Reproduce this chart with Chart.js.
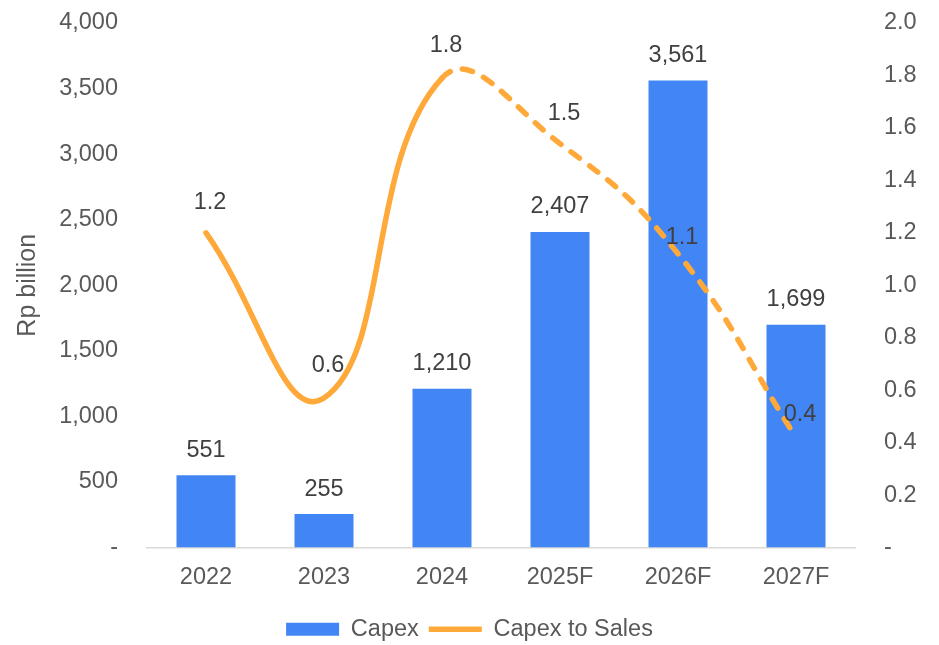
<!DOCTYPE html>
<html><head><meta charset="utf-8">
<script src="https://cdn.jsdelivr.net/npm/chart.js@4.4.1/dist/chart.umd.min.js"></script>
<style>html,body{margin:0;padding:0;background:#fff;overflow:hidden}</style>
</head><body>
<canvas id="c" width="939" height="645"></canvas>
<script>
const categories = ['2022', '2023', '2024', '2025F', '2026F', '2027F'];
const capex = [551, 255, 1210, 2407, 3561, 1699];
const capexToSales = [1.2, 0.57, 1.79, 1.54, 1.12, 0.42];
const firstForecastIndex = 2; // line is dashed from 2024 onward

const FONT = '"Liberation Sans", Arial, sans-serif';
const TICK_COLOR = '#595959';
const LABEL_COLOR = '#404040';
const BAR_COLOR = '#4285F4';
const LINE_COLOR = '#FFA93A';

const valueLabels = {
  id: 'valueLabels',
  afterDatasetsDraw(chart) {
    const ctx = chart.ctx;
    ctx.save();
    ctx.font = '23.5px ' + FONT;
    ctx.fillStyle = LABEL_COLOR;
    ctx.textAlign = 'center';
    ctx.textBaseline = 'middle';
    chart.getDatasetMeta(0).data.forEach((el, i) => {
      ctx.fillText(capex[i].toLocaleString('en-US'), el.x, el.y - 25);
    });
    const dy = [-30, -33, -33, -30, -16, -23];
    chart.getDatasetMeta(1).data.forEach((el, i) => {
      ctx.fillText(capexToSales[i].toFixed(1), el.x + 4, el.y + dy[i]);
    });
    ctx.restore();
  }
};

const fixVertical = w => s => { s.width = w; s.paddingTop = 0; s.paddingBottom = 0; };

new Chart(document.getElementById('c'), {
  data: {
    labels: categories,
    datasets: [
      {
        type: 'bar',
        label: 'Capex',
        data: capex,
        backgroundColor: BAR_COLOR,
        borderWidth: 0,
        yAxisID: 'y',
        order: 1,
        pointStyle: 'rect',
        categoryPercentage: 1,
        barPercentage: 0.5
      },
      {
        type: 'line',
        label: 'Capex to Sales',
        data: capexToSales,
        borderColor: LINE_COLOR,
        backgroundColor: LINE_COLOR,
        borderWidth: 5.5,
        borderCapStyle: 'round',
        borderJoinStyle: 'round',
        tension: 0.45,
        pointRadius: 0,
        pointHoverRadius: 0,
        pointStyle: 'line',
        yAxisID: 'y1',
        order: 0,
        segment: {
          borderDash: c => c.p0DataIndex >= firstForecastIndex ? [10.5, 12.5] : undefined
        }
      }
    ]
  },
  options: {
    responsive: false,
    animation: false,
    devicePixelRatio: 1,
    layout: { padding: { top: 23, bottom: -6, left: 0, right: 0 } },
    plugins: {
      legend: {
        position: 'bottom',
        labels: {
          usePointStyle: true,
          pointStyleWidth: 53,
          boxHeight: 13,
          padding: 10,
          color: TICK_COLOR,
          font: { family: FONT, size: 23.5 },
          sort: (a, b) => a.datasetIndex - b.datasetIndex
        }
      },
      tooltip: { enabled: false }
    },
    scales: {
      x: {
        grid: { display: false, drawTicks: false },
        border: { display: true, color: '#d9d9d9', width: 1.5 },
        ticks: { color: TICK_COLOR, font: { family: FONT, size: 23.5 }, padding: 16, maxRotation: 0 },
        afterFit: s => { s.height = 60; }
      },
      y: {
        position: 'left',
        min: 0, max: 4000,
        grid: { display: false, drawTicks: false },
        border: { display: false },
        ticks: {
          stepSize: 500,
          color: TICK_COLOR,
          font: { family: FONT, size: 23.5 },
          padding: 29,
          callback: v => v === 0 ? '-' : v.toLocaleString('en-US')
        },
        title: {
          display: true,
          text: 'Rp billion',
          color: TICK_COLOR,
          font: { family: FONT, size: 25 },
          padding: { top: 13.5, bottom: 0 }
        },
        afterFit: fixVertical(147)
      },
      y1: {
        position: 'right',
        min: 0, max: 2,
        grid: { display: false, drawTicks: false },
        border: { display: false },
        ticks: {
          stepSize: 0.2,
          color: TICK_COLOR,
          font: { family: FONT, size: 23.5 },
          padding: 29,
          callback: v => Math.abs(v) < 1e-9 ? '-' : v.toFixed(1)
        },
        afterFit: fixVertical(84)
      }
    }
  },
  plugins: [valueLabels]
});
</script>
</body></html>
